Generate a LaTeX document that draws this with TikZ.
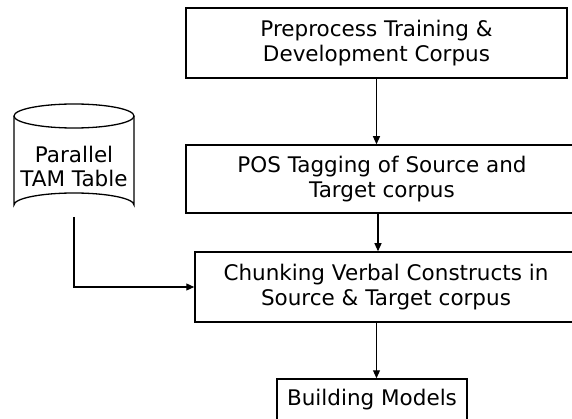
\documentclass[tikz,border=0pt]{standalone}
\usepackage{fontspec}
\setmainfont{DejaVu Sans}
\usetikzlibrary{arrows.meta}
\begin{document}
\begin{tikzpicture}[x=1pt,y=-1pt,
  box/.style={draw,line width=1.5pt,inner sep=0pt,align=center,
    font=\fontsize{21.5}{25}\selectfont},
  arr/.style={line width=1.1pt,-{Triangle[length=8pt,width=7pt]}}]
\useasboundingbox (0,0) rectangle (572,419);
\clip (0,0) rectangle (572,419);
\fill[white] (0,0) rectangle (572,419);
\node[box,minimum width=381pt,minimum height=70pt] (b1) at (376.5,43) {Preprocess Training \&\\Development Corpus};
\node[box,minimum width=392pt,minimum height=68pt] (b2) at (382,179) {POS Tagging of Source and\\Target corpus};
\node[box,minimum width=382pt,minimum height=70pt] (b3) at (386,287) {Chunking Verbal Constructs in\\Source \& Target corpus};
\node[box,minimum width=190pt,minimum height=42pt] (b4) at (372,400) {Building Models};
% cylinder
\draw[line width=1.3pt] (14,116) -- (14,205) arc[start angle=180,end angle=360,x radius=60,y radius=12] -- (134,116);
\draw[line width=1.3pt] (74,116) ellipse[x radius=60,y radius=12];
\node[align=center,inner sep=0pt,font=\fontsize{21.5}{24}\selectfont] (tam) at (74,166) {Parallel\\TAM Table};
\coordinate (cb) at (74,217);
\draw[arr] (b1.south) -- (b1.south |- b2.north);
\draw[arr] ([xshift=1.5pt]b1.south |- b2.south) -- ([xshift=1.5pt]b1.south |- b3.north);
\draw[arr] (b1.south |- b3.south) -- (b1.south |- b4.north);
\draw[arr] (cb) |- (b3.west);
\end{tikzpicture}
\end{document}
